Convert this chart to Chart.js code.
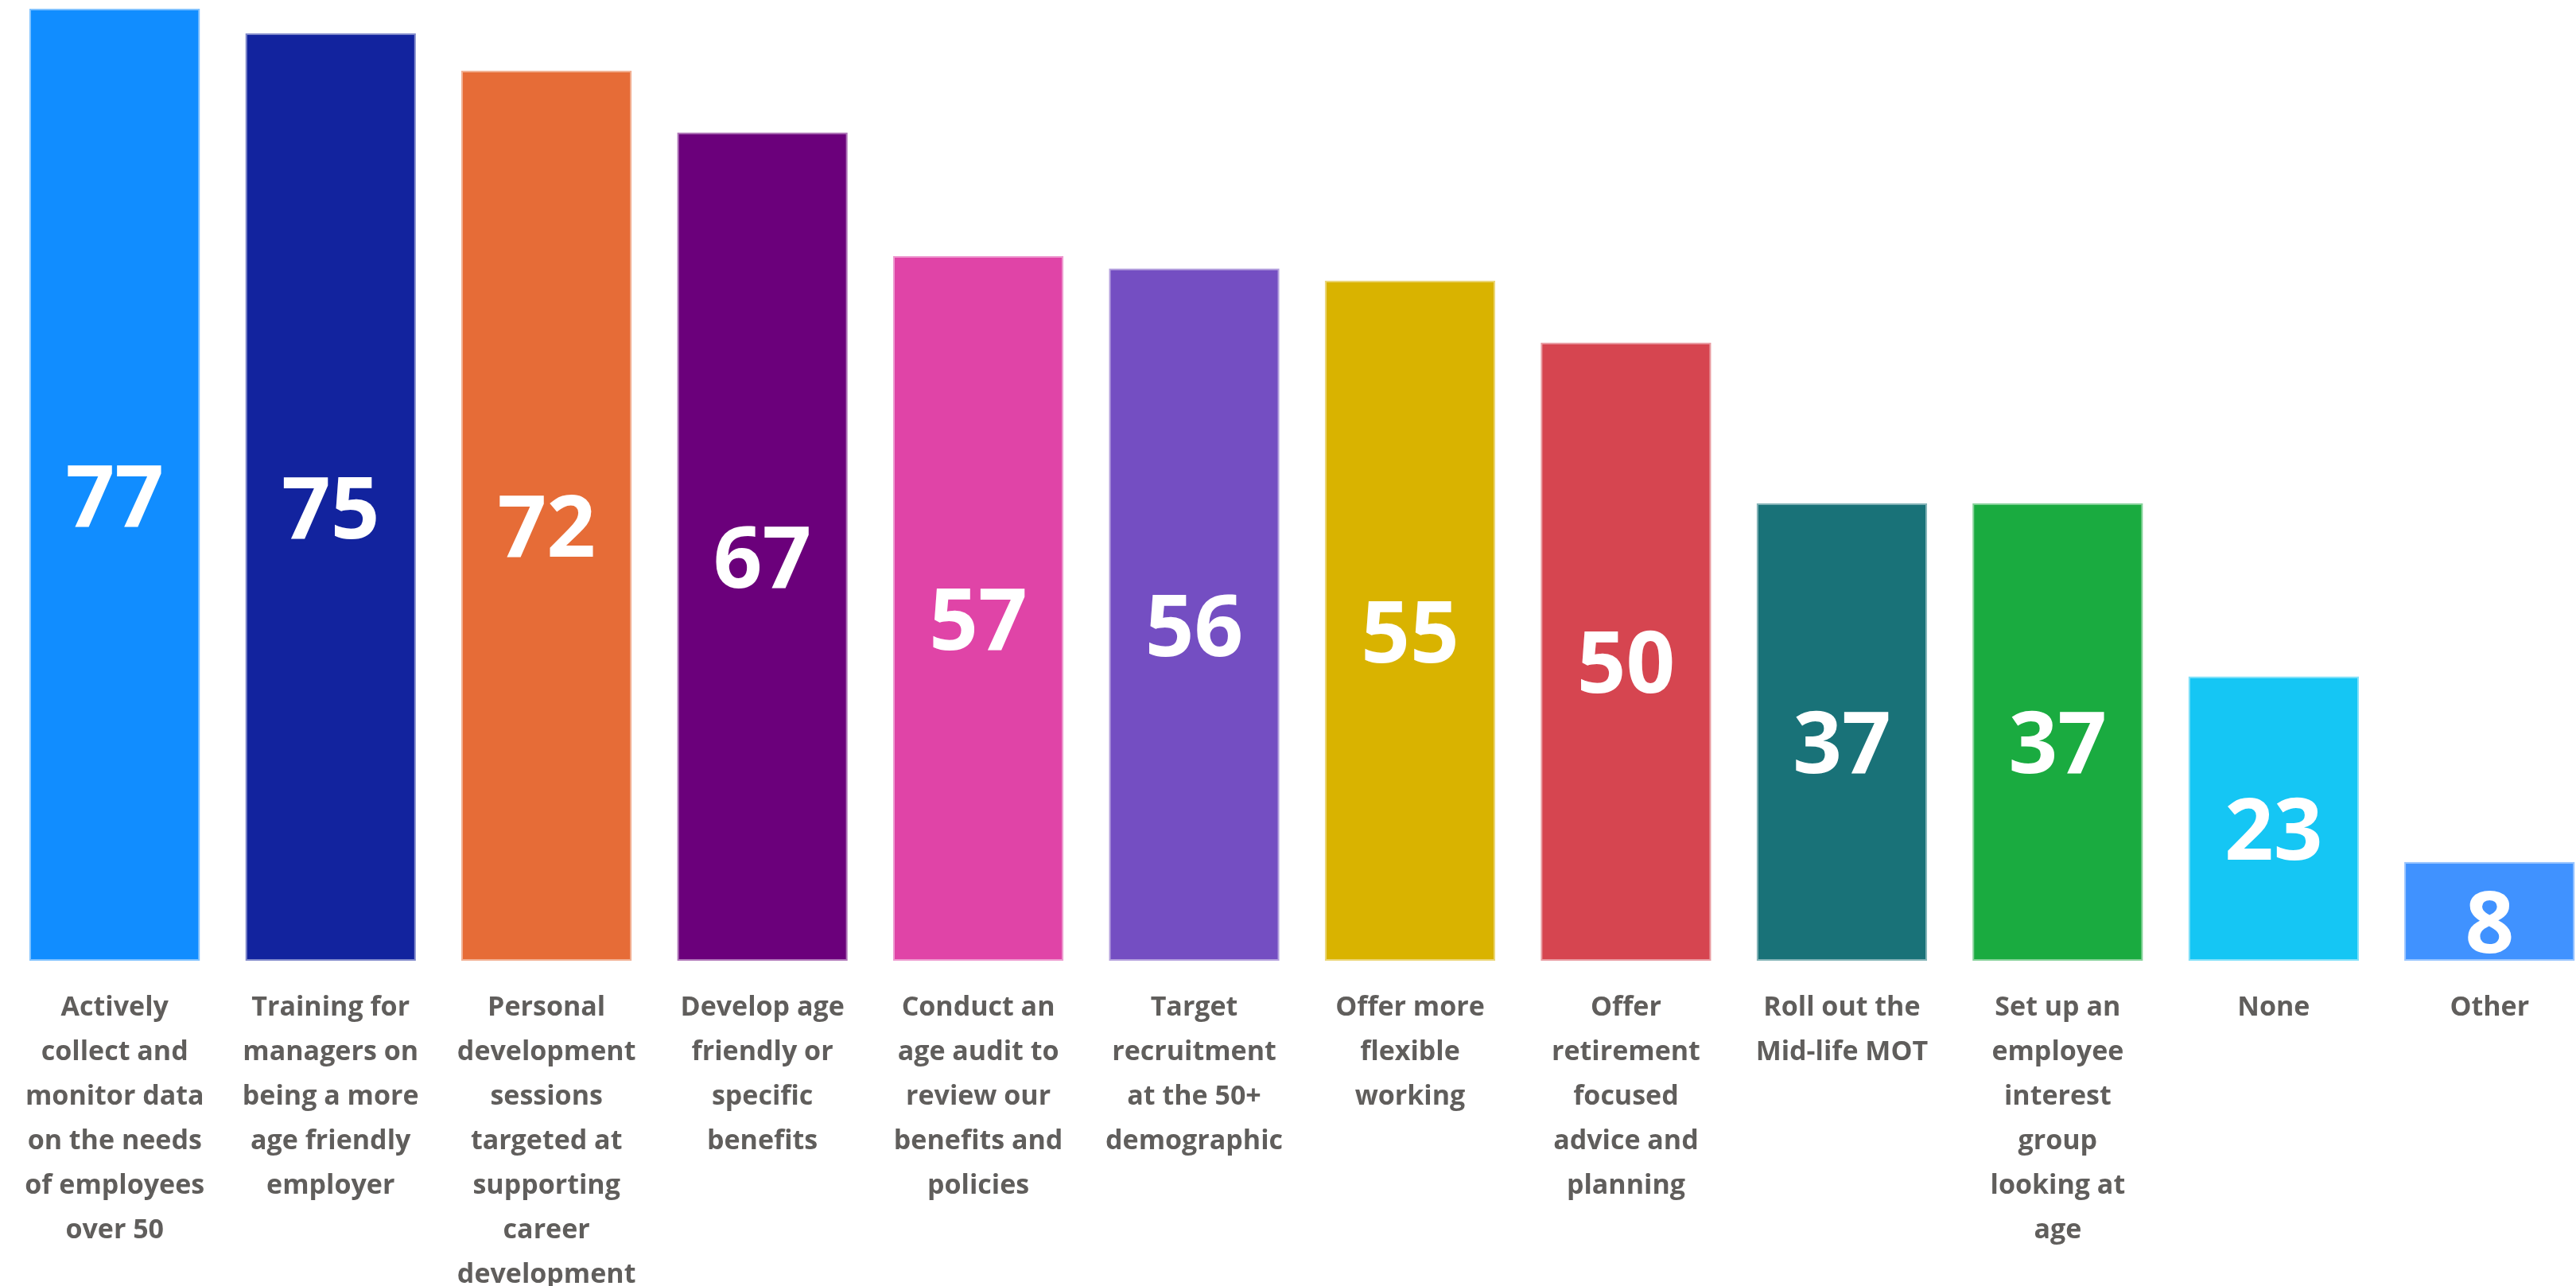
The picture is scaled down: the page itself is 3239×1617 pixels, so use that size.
<!DOCTYPE html>
<html>
<head>
<meta charset="utf-8">
<script src="https://cdn.jsdelivr.net/npm/chart.js@4.4.1/dist/chart.umd.min.js"></script>
<style>
  html, body { margin: 0; padding: 0; background: #fff; overflow: hidden; }
  #wrap { width: 3273px; height: 1617px; }
</style>
</head>
<body>
<div id="wrap"><canvas id="grafico" width="3273" height="1617"></canvas></div>
<script>
// categorias (cada linha do rotulo em separado)
const categorias = [
  ['Actively', 'collect and', 'monitor data', 'on the needs', 'of employees', 'over 50'],
  ['Training for', 'managers on', 'being a more', 'age friendly', 'employer'],
  ['Personal', 'development', 'sessions', 'targeted at', 'supporting', 'career', 'development'],
  ['Develop age', 'friendly or', 'specific', 'benefits'],
  ['Conduct an', 'age audit to', 'review our', 'benefits and', 'policies'],
  ['Target', 'recruitment', 'at the 50+', 'demographic'],
  ['Offer more', 'flexible', 'working'],
  ['Offer', 'retirement', 'focused', 'advice and', 'planning'],
  ['Roll out the', 'Mid-life MOT'],
  ['Set up an', 'employee', 'interest', 'group', 'looking at', 'age'],
  ['None'],
  ['Other']
]
const valores = [77, 75, 72, 67, 57, 56, 55, 50, 37, 37, 23, 8]
const cores = ['#118DFF', '#12239E', '#E66C37', '#6B007B', '#E044A7', '#744EC2',
               '#D9B300', '#D64550', '#197278', '#1AAB40', '#15C6F4', '#4092FF']

// borda um pouco mais clara que a barra
const bordas = cores.map(c => c + '88')

// numero branco no meio de cada barra
const rotulosDentro = {
  id: 'rotulosDentro',
  afterDatasetsDraw(chart) {
    const ctx = chart.ctx
    const meta = chart.getDatasetMeta(0)
    ctx.save()
    ctx.fillStyle = '#ffffff'
    ctx.font = 'bold 108px "Open Sans"'
    ctx.textAlign = 'center'
    ctx.textBaseline = 'alphabetic'
    meta.data.forEach((barra, i) => {
      const meio = (barra.y + barra.base) / 2
      ctx.fillText(String(valores[i]), barra.x, meio + 52)
    })
    ctx.restore()
  }
}

const ctx = document.getElementById('grafico')

new Chart(ctx, {
  type: 'bar',
  data: {
    labels: categorias,
    datasets: [{
      data: valores,
      backgroundColor: cores,
      borderColor: bordas,
      borderWidth: 2,
      borderSkipped: false,
      categoryPercentage: 1,
      barPercentage: 0.79
    }]
  },
  options: {
    responsive: false,
    animation: false,
    events: [],
    layout: { padding: { left: 7, right: 7, top: 11, bottom: 0 } },
    plugins: {
      legend: { display: false },
      tooltip: { enabled: false }
    },
    scales: {
      x: {
        grid: { display: false, drawTicks: false },
        border: { display: false },
        ticks: {
          color: '#605E5C',
          padding: 31,
          maxRotation: 0,
          autoSkip: false,
          font: { family: '"Open Sans"', size: 34, weight: 'bold', lineHeight: 1.65 }
        },
        afterFit(scale) { scale.height = 409 }
      },
      y: {
        display: false,
        min: 0,
        max: 77
      }
    }
  },
  plugins: [rotulosDentro]
})
</script>
</body>
</html>
